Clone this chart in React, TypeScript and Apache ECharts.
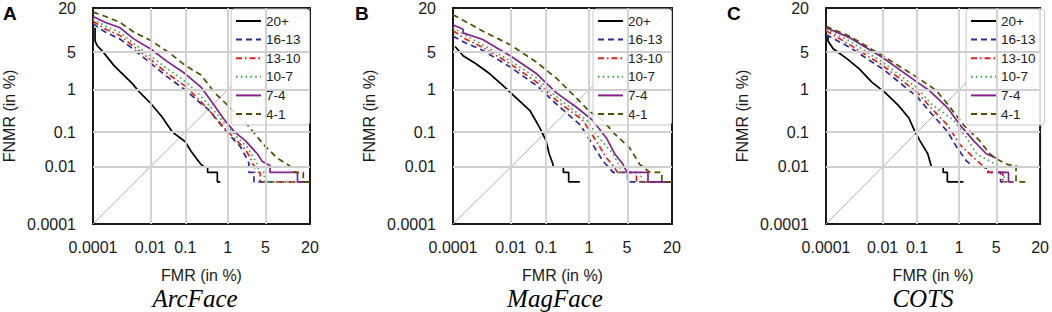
import React, { useEffect, useRef } from "react";
import * as echarts from "echarts";

// ---------- labels / categories ----------
const panelNames = ["ArcFace", "MagFace", "COTS"];
const panelLetters = ["A", "B", "C"];
const groupNames = ["20+", "16-13", "13-10", "10-7", "7-4", "4-1"];
const tickValues = [0.0001, 0.01, 0.1, 1, 5, 20]; // in %
const tickLabels = ["0.0001", "0.01", "0.1", "1", "5", "20"];
const gridValues = [0.01, 0.1, 1, 5]; // inner grid lines, in %
const axisMinPct = 0.0001;
const axisMaxPct = 20;

// ---------- data: [FMR %, FNMR %] ----------
const arcface20 = [[0.00012,11.5],[0.00012,7.5],[0.00015,6.3],[0.00025,5.0],[0.0006,3.0],[0.001,2.3],[0.0025,1.4],[0.0045,0.9],[0.01,0.52],[0.022,0.25],[0.045,0.1],[0.1,0.055],[0.14,0.03],[0.2,0.017],[0.25,0.012],[0.3,0.01],[0.36,0.01],[0.36,0.0067],[0.6,0.0067],[0.6,0.0033],[0.7,0.0033]];
const arcface16 = [[0.0001,13],[0.0003,10],[0.001,8],[0.003,5.5],[0.01,3.3],[0.03,1.9],[0.1,1.0],[0.2,0.6],[0.37,0.37],[0.6,0.2],[1.0,0.095],[1.8,0.04],[2.3,0.02],[2.6,0.013],[2.6,0.0067],[3.2,0.0067],[3.2,0.0033],[20,0.0033]];
const arcface13 = [[0.0001,14],[0.0003,11],[0.001,9],[0.003,6.1],[0.01,3.8],[0.03,2.2],[0.1,1.2],[0.23,0.6],[0.45,0.3],[0.85,0.13],[1.55,0.058],[2.25,0.033],[2.8,0.018],[3.0,0.013],[3.3,0.01],[3.3,0.0067],[4.1,0.0067],[4.1,0.0033],[20,0.0033]];
const arcface10 = [[0.0001,15],[0.0003,12],[0.001,10],[0.003,6.8],[0.01,4.4],[0.03,2.7],[0.1,1.5],[0.2,0.9],[0.43,0.42],[0.82,0.18],[1.6,0.07],[2.4,0.04],[3.1,0.02],[3.6,0.013],[3.8,0.01],[3.8,0.0067],[4.8,0.0067],[4.8,0.0033],[20,0.0033]];
const arcface7 = [[0.0001,16],[0.0003,13.5],[0.001,11.5],[0.003,8],[0.01,5.7],[0.03,3.6],[0.1,2.1],[0.25,1.15],[0.47,0.52],[0.82,0.22],[1.35,0.105],[2.25,0.058],[3.65,0.025],[4.4,0.015],[5.9,0.011],[5.9,0.0067],[14.3,0.0067],[14.3,0.0033],[20,0.0033]];
const arcface4 = [[0.0001,18],[0.0003,16],[0.001,13.5],[0.003,10],[0.01,7.7],[0.035,5.0],[0.1,3.0],[0.25,2.0],[0.52,0.88],[1.35,0.33],[2.45,0.155],[4.65,0.046],[7.5,0.019],[11.5,0.0105],[13.3,0.0067],[16.8,0.0067],[16.8,0.0033],[20,0.0033]];

const magface20 = [[0.00012,6.2],[0.00024,4.4],[0.0007,3.2],[0.0021,2.1],[0.0057,1.23],[0.015,0.66],[0.037,0.34],[0.068,0.13],[0.1,0.058],[0.12,0.025],[0.15,0.012],[0.15,0.01],[0.27,0.01],[0.27,0.0067],[0.36,0.0067],[0.36,0.0033],[0.64,0.0033]];
const magface16 = [[0.0001,8.8],[0.0003,7],[0.0012,5.4],[0.0095,2.8],[0.056,1.23],[0.18,0.5],[0.65,0.155],[1.2,0.046],[1.9,0.015],[2.4,0.01],[2.9,0.0067],[5.1,0.0067],[5.1,0.0033],[20,0.0033]];
const magface13 = [[0.0001,10.5],[0.0003,8],[0.0012,6.0],[0.0095,3.2],[0.056,1.45],[0.18,0.6],[0.75,0.2],[1.4,0.058],[2.2,0.019],[2.9,0.011],[3.5,0.0067],[7.0,0.0067],[7.0,0.0033],[20,0.0033]];
const magface10 = [[0.0001,11.5],[0.0003,9],[0.0012,6.6],[0.0095,3.6],[0.056,1.75],[0.18,0.72],[0.9,0.2],[1.6,0.07],[2.9,0.025],[3.8,0.01],[4.0,0.0067],[8.2,0.0067],[8.2,0.0033],[20,0.0033]];
const magface7 = [[0.0001,12.6],[0.00024,11],[0.00024,9.8],[0.0012,7.9],[0.0095,4.4],[0.056,2.1],[0.18,0.88],[0.55,0.41],[1.2,0.2],[2.2,0.07],[3.1,0.025],[4.3,0.012],[5.0,0.0067],[10.2,0.0067],[10.2,0.0033],[20,0.0033]];
const magface4 = [[0.0001,16.8],[0.0012,10.4],[0.0095,6.6],[0.056,3.4],[0.18,1.75],[0.55,0.66],[1.0,0.34],[1.9,0.2],[3.1,0.09],[5.5,0.037],[7.8,0.012],[10.8,0.0067],[15.3,0.0067],[15.3,0.0033],[20,0.0033]];

const cots20 = [[0.00012,8.8],[0.00012,7.5],[0.00019,5.7],[0.00063,3.9],[0.0017,2.6],[0.0045,1.45],[0.012,0.88],[0.03,0.46],[0.06,0.23],[0.087,0.105],[0.12,0.058],[0.19,0.025],[0.23,0.011],[0.23,0.01],[0.45,0.01],[0.45,0.0067],[0.56,0.0067],[0.56,0.0033],[1.25,0.0033]];
const cots16 = [[0.0001,9.3],[0.00078,6.0],[0.01,2.6],[0.1,0.72],[0.23,0.3],[0.56,0.105],[0.92,0.037],[1.45,0.015],[2.0,0.01],[3.4,0.01],[3.4,0.0067],[5.9,0.0067],[5.9,0.0033],[7.2,0.0033]];
const cots13 = [[0.0001,10.5],[0.00078,6.6],[0.01,3.0],[0.1,0.9],[0.23,0.4],[0.56,0.155],[1.05,0.046],[2.0,0.019],[2.9,0.011],[3.9,0.0067],[6.4,0.0067],[6.4,0.0033],[7.5,0.0033]];
const cots10 = [[0.0001,11],[0.00078,7.5],[0.01,3.4],[0.1,1.1],[0.23,0.5],[0.78,0.2],[1.45,0.07],[2.25,0.025],[3.9,0.015],[5.2,0.011],[5.2,0.0067],[6.7,0.0067],[6.7,0.0033],[7.8,0.0033]];
const cots7 = [[0.0001,11.5],[0.00078,8.4],[0.01,4.1],[0.1,1.45],[0.2,1.0],[0.56,0.41],[1.05,0.155],[2.0,0.058],[3.4,0.025],[4.8,0.019],[5.2,0.019],[5.2,0.0067],[7.8,0.0067],[7.8,0.0033],[9.3,0.0033]];
const cots4 = [[0.0001,12],[0.00078,8.8],[0.01,4.4],[0.1,1.8],[0.3,1.0],[0.56,0.5],[1.25,0.155],[2.6,0.058],[3.9,0.025],[5.2,0.017],[7.5,0.012],[8.9,0.011],[10,0.011],[10,0.0033],[14.3,0.0033]];

const panelData = [
  [arcface20, arcface16, arcface13, arcface10, arcface7, arcface4],
  [magface20, magface16, magface13, magface10, magface7, magface4],
  [cots20, cots16, cots13, cots10, cots7, cots4],
];

// ---------- styles ----------
const groupColors = ["#000000", "#2b2b9b", "#e2231a", "#3dab45", "#85218f", "#4f4f00"];
const groupDash: any[] = ["solid", [6, 4], [6, 3, 1.5, 3], [1.6, 3.2], "solid", [6, 4]];
const gridLefts = [91, 453, 826];
const letterX = [3, 355, 727];
const titleX = [195, 555, 923];
const SANS = '"Liberation Sans", Arial, Helvetica, sans-serif';
const SERIF = '"Liberation Serif", "Times New Roman", serif';

// inverse standard normal CDF (normal-deviate scale of a DET plot)
function probit(p: number): number {
  const a = [-3.969683028665376e1, 2.209460984245205e2, -2.759285104469687e2, 1.38357751867269e2, -3.066479806614716e1, 2.506628277459239];
  const b = [-5.447609879822406e1, 1.615858368580409e2, -1.556989798598866e2, 6.680131188771972e1, -1.328068155288572e1];
  const c = [-7.784894002430293e-3, -3.223964580411365e-1, -2.400758277161838, -2.549671348440162, 4.374664141464968, 2.938163982698783];
  const d = [7.784695709041462e-3, 3.224671290700398e-1, 2.445134137142996, 3.754408661907416];
  const pLow = 0.02425;
  if (p < pLow) {
    const q = Math.sqrt(-2 * Math.log(p));
    return (((((c[0] * q + c[1]) * q + c[2]) * q + c[3]) * q + c[4]) * q + c[5]) / ((((d[0] * q + d[1]) * q + d[2]) * q + d[3]) * q + 1);
  } else if (p <= 1 - pLow) {
    const q = p - 0.5;
    const r = q * q;
    return ((((((a[0] * r + a[1]) * r + a[2]) * r + a[3]) * r + a[4]) * r + a[5]) * q) / (((((b[0] * r + b[1]) * r + b[2]) * r + b[3]) * r + b[4]) * r + 1);
  }
  const q = Math.sqrt(-2 * Math.log(1 - p));
  return -(((((c[0] * q + c[1]) * q + c[2]) * q + c[3]) * q + c[4]) * q + c[5]) / ((((d[0] * q + d[1]) * q + d[2]) * q + d[3]) * q + 1);
}
const pz = (pct: number) => probit(pct / 100);
const ZMIN = pz(axisMinPct);
const ZMAX = pz(axisMaxPct);
const tickZ = tickValues.map(pz);
const fmt = (v: number) => {
  let best = 0;
  for (let i = 0; i < tickZ.length; i++) if (Math.abs(tickZ[i] - v) < Math.abs(tickZ[best] - v)) best = i;
  return tickLabels[best];
};

function buildOption() {
  const grids: any[] = [];
  const xAxes: any[] = [];
  const yAxes: any[] = [];
  const series: any[] = [];
  const legends: any[] = [];
  const graphics: any[] = [];
  const labelStyle = { fontSize: 16, color: "#1a1a1a", fontFamily: SANS };

  panelNames.forEach((pname, i) => {
    grids.push({ left: gridLefts[i], top: 5, width: 219, height: 219, show: true, borderColor: "#1a1a1a", borderWidth: 2, backgroundColor: "#fff" });
    xAxes.push({
      gridIndex: i, type: "value", min: ZMIN, max: ZMAX,
      axisLine: { show: false }, axisTick: { show: false }, splitLine: { show: false },
      axisLabel: { ...labelStyle, customValues: tickZ, formatter: fmt, margin: 15 },
      name: "FMR (in %)", nameLocation: "middle", nameGap: 43, nameTextStyle: { ...labelStyle },
    });
    yAxes.push({
      gridIndex: i, type: "value", min: ZMIN, max: ZMAX,
      axisLine: { show: false }, axisTick: { show: false }, splitLine: { show: false },
      axisLabel: { ...labelStyle, customValues: tickZ, formatter: fmt, margin: 17 },
      name: "FNMR (in %)", nameLocation: "middle", nameGap: 76, nameTextStyle: { ...labelStyle },
    });
    // diagonal FMR = FNMR plus grid lines
    series.push({
      type: "line", name: "diag" + i, xAxisIndex: i, yAxisIndex: i, z: 1, silent: true,
      showSymbol: false, symbol: "none",
      data: [[ZMIN, ZMIN], [ZMAX, ZMAX]],
      lineStyle: { color: "#b0b0b0", width: 1 },
      markLine: {
        silent: true, symbol: ["none", "none"], label: { show: false },
        lineStyle: { color: "#cfcfcf", width: 1.8, type: "solid" },
        data: [...gridValues.map((v) => ({ xAxis: pz(v) })), ...gridValues.map((v) => ({ yAxis: pz(v) }))],
      },
    });
    panelData[i].forEach((curve, g) => {
      series.push({
        type: "line", name: groupNames[g], xAxisIndex: i, yAxisIndex: i, z: 2,
        showSymbol: false, symbol: "none",
        data: curve.map(([fmr, fnmr]) => [pz(fmr), pz(fnmr)]),
        lineStyle: { color: groupColors[g], width: 1.7, type: groupDash[g] },
        itemStyle: { color: groupColors[g] },
      });
    });
    legends.push({
      orient: "vertical", left: gridLefts[i] + 140, top: 9, data: groupNames,
      itemWidth: 25, itemHeight: 12, itemGap: 4.6, padding: [5, 9, 4, 4],
      itemStyle: { opacity: 0, borderWidth: 0 },
      backgroundColor: "rgba(255,255,255,0.85)", borderColor: "#c8c8c8", borderWidth: 1, borderRadius: 3,
      textStyle: { fontSize: 13.5, color: "#222", fontFamily: SANS }, selectedMode: false,
    });
    graphics.push({
      type: "text", x: letterX[i], y: 4,
      style: { text: panelLetters[i], fontSize: 19, fontWeight: "bold", fontFamily: SANS, fill: "#000" },
    });
    graphics.push({
      type: "text", x: titleX[i], y: 298,
      style: { text: pname, fontSize: 25, fontStyle: "italic", fontFamily: SERIF, fill: "#000", align: "center", verticalAlign: "middle" },
    });
  });

  return {
    animation: false,
    backgroundColor: "#fff",
    grid: grids, xAxis: xAxes, yAxis: yAxes, series, legend: legends, graphic: graphics,
  };
}

export default function App() {
  const ref = useRef<HTMLDivElement>(null);
  useEffect(() => {
    if (!ref.current) return;
    const chart = echarts.init(ref.current, undefined, { renderer: "svg" });
    chart.setOption(buildOption());
    return () => chart.dispose();
  }, []);
  return <div ref={ref} style={{ position: "absolute", left: 0, top: 0, width: 1052, height: 312 }} />;
}
